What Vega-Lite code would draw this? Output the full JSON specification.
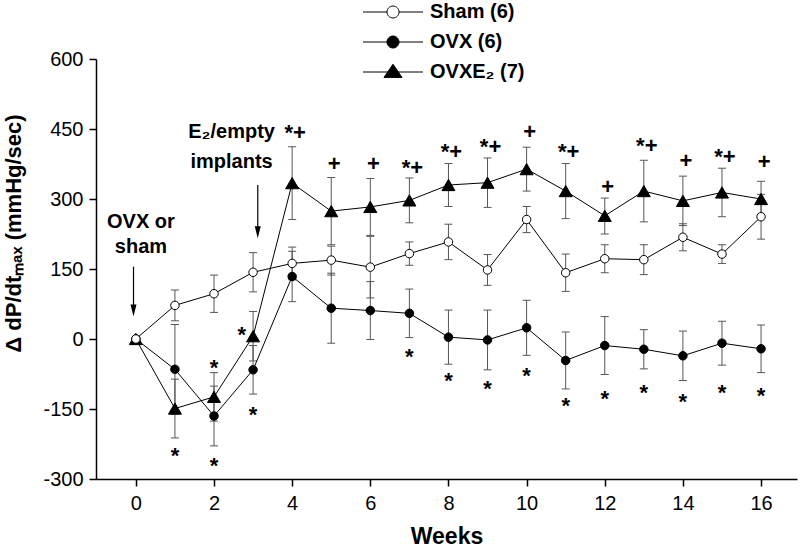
{
  "$schema": "https://vega.github.io/schema/vega-lite/v6.json",
  "width": 701,
  "height": 420,
  "autosize": {"type": "none"},
  "padding": {"left": 96, "top": 59, "right": 3, "bottom": 71},
  "background": "white",
  "config": {
    "view": {"stroke": null},
    "font": "Liberation Sans",
    "axis": {
      "grid": false,
      "domainColor": "black",
      "domainWidth": 1.5,
      "tickColor": "black",
      "tickWidth": 1.5,
      "tickSize": 7,
      "labelColor": "black",
      "labelFont": "Liberation Sans",
      "labelFontSize": 20,
      "titleColor": "black",
      "titleFont": "Liberation Sans",
      "titleFontWeight": "bold"
    }
  },
  "datasets": {
    "series": [
      {"week": 0, "group": "Sham (6)", "mean": 0, "lo": 0, "hi": 0},
      {"week": 1, "group": "Sham (6)", "mean": 72, "lo": 39, "hi": 105},
      {"week": 2, "group": "Sham (6)", "mean": 97, "lo": 57, "hi": 137},
      {"week": 3, "group": "Sham (6)", "mean": 143, "lo": 101, "hi": 185},
      {"week": 4, "group": "Sham (6)", "mean": 162, "lo": 127, "hi": 197},
      {"week": 5, "group": "Sham (6)", "mean": 169, "lo": 137, "hi": 199},
      {"week": 6, "group": "Sham (6)", "mean": 154, "lo": 88, "hi": 220},
      {"week": 7, "group": "Sham (6)", "mean": 183, "lo": 158, "hi": 208},
      {"week": 8, "group": "Sham (6)", "mean": 208, "lo": 170, "hi": 246},
      {"week": 9, "group": "Sham (6)", "mean": 148, "lo": 115, "hi": 181},
      {"week": 10, "group": "Sham (6)", "mean": 256, "lo": 228, "hi": 284},
      {"week": 11, "group": "Sham (6)", "mean": 142, "lo": 102, "hi": 182},
      {"week": 12, "group": "Sham (6)", "mean": 172, "lo": 142, "hi": 202},
      {"week": 13, "group": "Sham (6)", "mean": 170, "lo": 138, "hi": 202},
      {"week": 14, "group": "Sham (6)", "mean": 218, "lo": 189, "hi": 247},
      {"week": 15, "group": "Sham (6)", "mean": 182, "lo": 162, "hi": 202},
      {"week": 16, "group": "Sham (6)", "mean": 262, "lo": 214, "hi": 310},
      {"week": 0, "group": "OVX (6)", "mean": 0, "lo": 0, "hi": 0},
      {"week": 1, "group": "OVX (6)", "mean": -65, "lo": -161, "hi": 31},
      {"week": 2, "group": "OVX (6)", "mean": -165, "lo": -229, "hi": -101},
      {"week": 3, "group": "OVX (6)", "mean": -66, "lo": -118, "hi": -14},
      {"week": 4, "group": "OVX (6)", "mean": 134, "lo": 80, "hi": 188},
      {"week": 5, "group": "OVX (6)", "mean": 66, "lo": -9, "hi": 141},
      {"week": 6, "group": "OVX (6)", "mean": 61, "lo": -1, "hi": 123},
      {"week": 7, "group": "OVX (6)", "mean": 55, "lo": 3, "hi": 107},
      {"week": 8, "group": "OVX (6)", "mean": 4, "lo": -54, "hi": 62},
      {"week": 9, "group": "OVX (6)", "mean": -2, "lo": -66, "hi": 62},
      {"week": 10, "group": "OVX (6)", "mean": 24, "lo": -35, "hi": 83},
      {"week": 11, "group": "OVX (6)", "mean": -46, "lo": -107, "hi": 15},
      {"week": 12, "group": "OVX (6)", "mean": -14, "lo": -76, "hi": 48},
      {"week": 13, "group": "OVX (6)", "mean": -22, "lo": -64, "hi": 20},
      {"week": 14, "group": "OVX (6)", "mean": -36, "lo": -89, "hi": 17},
      {"week": 15, "group": "OVX (6)", "mean": -9, "lo": -56, "hi": 38},
      {"week": 16, "group": "OVX (6)", "mean": -21, "lo": -72, "hi": 30},
      {"week": 0, "group": "OVXE₂ (7)", "mean": 0, "lo": 0, "hi": 0},
      {"week": 1, "group": "OVXE₂ (7)", "mean": -149, "lo": -212, "hi": -86},
      {"week": 2, "group": "OVXE₂ (7)", "mean": -124, "lo": -176, "hi": -72},
      {"week": 3, "group": "OVXE₂ (7)", "mean": 6, "lo": -47, "hi": 59},
      {"week": 4, "group": "OVXE₂ (7)", "mean": 334, "lo": 256, "hi": 412},
      {"week": 5, "group": "OVXE₂ (7)", "mean": 274, "lo": 202, "hi": 346},
      {"week": 6, "group": "OVXE₂ (7)", "mean": 283, "lo": 222, "hi": 344},
      {"week": 7, "group": "OVXE₂ (7)", "mean": 297, "lo": 249, "hi": 345},
      {"week": 8, "group": "OVXE₂ (7)", "mean": 330, "lo": 284, "hi": 376},
      {"week": 9, "group": "OVXE₂ (7)", "mean": 335, "lo": 282, "hi": 388},
      {"week": 10, "group": "OVXE₂ (7)", "mean": 364, "lo": 317, "hi": 411},
      {"week": 11, "group": "OVXE₂ (7)", "mean": 317, "lo": 258, "hi": 376},
      {"week": 12, "group": "OVXE₂ (7)", "mean": 264, "lo": 225, "hi": 302},
      {"week": 13, "group": "OVXE₂ (7)", "mean": 317, "lo": 251, "hi": 383},
      {"week": 14, "group": "OVXE₂ (7)", "mean": 296, "lo": 243, "hi": 349},
      {"week": 15, "group": "OVXE₂ (7)", "mean": 314, "lo": 262, "hi": 366},
      {"week": 16, "group": "OVXE₂ (7)", "mean": 300, "lo": 262, "hi": 338}
    ],
    "stars": [
      {"week": 1, "y": -238}, {"week": 2, "y": -259}, {"week": 2, "y": -49},
      {"week": 2.71, "y": 21}, {"week": 3, "y": -149}, {"week": 7, "y": -25},
      {"week": 8, "y": -77}, {"week": 9, "y": -95}, {"week": 10, "y": -66},
      {"week": 11, "y": -131}, {"week": 12, "y": -116}, {"week": 13, "y": -102},
      {"week": 14, "y": -122}, {"week": 15, "y": -102}, {"week": 16, "y": -109}
    ],
    "plus": [
      {"week": 4, "y": 441, "label": "*+"}, {"week": 5, "y": 375, "label": "+"},
      {"week": 6, "y": 375, "label": "+"}, {"week": 7, "y": 367, "label": "*+"},
      {"week": 8, "y": 401, "label": "*+"}, {"week": 9, "y": 412, "label": "*+"},
      {"week": 10, "y": 443, "label": "+"}, {"week": 11, "y": 400, "label": "*+"},
      {"week": 12, "y": 326, "label": "+"}, {"week": 13, "y": 414, "label": "*+"},
      {"week": 14, "y": 381, "label": "+"}, {"week": 15, "y": 389, "label": "*+"},
      {"week": 16, "y": 380, "label": "+"}
    ],
    "notes": [
      {"week": 0.13, "y": 251, "label": "OVX or"},
      {"week": 0.13, "y": 198, "label": "sham"},
      {"week": 2.45, "y": 444, "label": "E₂/empty"},
      {"week": 2.45, "y": 380, "label": "implants"}
    ],
    "arrows": [
      {"week": -0.06, "top": 155, "tip": 61},
      {"week": 3.12, "top": 330, "tip": 229}
    ]
  },
  "encoding": {
    "x": {"field": "week", "type": "quantitative", "scale": {"domain": [-1.02, 16.92], "nice": false, "zero": false},
          "axis": {"values": [0, 2, 4, 6, 8, 10, 12, 14, 16], "title": "Weeks", "titleFontSize": 23, "labelPadding": 7, "titleY": 57, "titleBaseline": "middle", "labelFlush": false}}
  },
  "layer": [
    {
      "data": {"name": "series"},
      "transform": [{"filter": "datum.week > 0"}],
      "mark": {"type": "rule", "color": "#555555", "strokeWidth": 1},
      "encoding": {
        "y": {"field": "lo", "type": "quantitative", "scale": {"domain": [-300, 600], "nice": false, "zero": false},
              "axis": {"values": [-300, -150, 0, 150, 300, 450, 600], "labelExpr": "datum.value < 0 ? '-' + abs(datum.value) : '' + datum.value", "title": "Δ dP/dtₘₐₓ (mmHg/sec)", "titleFontSize": 22, "labelPadding": 6, "titleAngle": -90, "titleX": -83, "titleY": 174, "titleAlign": "center", "titleBaseline": "middle", "labelFlush": false}},
        "y2": {"field": "hi"}
      }
    },
    {
      "data": {"name": "series"},
      "transform": [{"filter": "datum.week > 0"}],
      "mark": {"type": "tick", "orient": "horizontal", "size": 8, "thickness": 1, "color": "#555555", "opacity": 1},
      "encoding": {
        "y": {"field": "lo", "type": "quantitative", "title": "Δ dP/dtₘₐₓ (mmHg/sec)"}
      }
    },
    {
      "data": {"name": "series"},
      "transform": [{"filter": "datum.week > 0"}],
      "mark": {"type": "tick", "orient": "horizontal", "size": 8, "thickness": 1, "color": "#555555", "opacity": 1},
      "encoding": {
        "y": {"field": "hi", "type": "quantitative", "title": "Δ dP/dtₘₐₓ (mmHg/sec)"}
      }
    },
    {
      "data": {"name": "series"},
      "mark": {"type": "line", "color": "black", "strokeWidth": 1},
      "encoding": {
        "y": {"field": "mean", "type": "quantitative", "title": "Δ dP/dtₘₐₓ (mmHg/sec)"},
        "detail": {"field": "group", "type": "nominal"}
      }
    },
    {
      "data": {"name": "series"},
      "transform": [{"filter": "datum.group === 'OVXE₂ (7)'"}],
      "mark": {"type": "point", "shape": "triangle-up", "size": 169, "filled": true, "fill": "black", "stroke": "black", "strokeWidth": 1, "opacity": 1},
      "encoding": {
        "y": {"field": "mean", "type": "quantitative", "title": "Δ dP/dtₘₐₓ (mmHg/sec)"}
      }
    },
    {
      "data": {"name": "series"},
      "transform": [{"filter": "datum.group === 'OVX (6)'"}],
      "mark": {"type": "point", "shape": "circle", "size": 72, "filled": true, "fill": "black", "stroke": "black", "strokeWidth": 1, "opacity": 1},
      "encoding": {
        "y": {"field": "mean", "type": "quantitative", "title": "Δ dP/dtₘₐₓ (mmHg/sec)"}
      }
    },
    {
      "data": {"name": "series"},
      "transform": [{"filter": "datum.group === 'Sham (6)'"}],
      "mark": {"type": "point", "shape": "circle", "size": 72, "filled": true, "fill": "white", "stroke": "black", "strokeWidth": 1, "opacity": 1},
      "encoding": {
        "y": {"field": "mean", "type": "quantitative", "title": "Δ dP/dtₘₐₓ (mmHg/sec)"}
      }
    },
    {
      "data": {"name": "series"},
      "transform": [{"filter": "false"}],
      "mark": {"type": "point", "filled": true, "stroke": "black", "strokeWidth": 1, "opacity": 1},
      "encoding": {
        "y": {"field": "mean", "type": "quantitative", "title": "Δ dP/dtₘₐₓ (mmHg/sec)"},
        "shape": {"field": "group", "type": "nominal",
                  "scale": {"domain": ["Sham (6)", "OVX (6)", "OVXE₂ (7)"],
                            "range": ["M-5,0H-1M1,0H5M1,0A1,1,0,1,1,-1,0A1,1,0,1,1,1,0Z", "M-5,0H-1M1,0H5M1,0A1,1,0,1,1,-1,0A1,1,0,1,1,1,0Z", "M-5,0H-0.8M0.8,0H5M0,-1.3L1.5,0.9L-1.5,0.9Z"]},
                  "legend": {"orient": "none", "legendX": 287, "legendY": -57, "title": null, "padding": 0, "symbolSize": 144, "symbolStrokeWidth": 1, "symbolStrokeColor": "black", "labelFont": "Liberation Sans", "labelFontSize": 20, "labelFontWeight": "bold", "labelColor": "black", "labelOffset": 27, "rowPadding": 10, "symbolOpacity": 1,
                             "encode": {"symbols": {"update": {"stroke": {"value": "black"}, "strokeWidth": {"value": 1}}}}}},
        "fill": {"field": "group", "type": "nominal",
                 "scale": {"domain": ["Sham (6)", "OVX (6)", "OVXE₂ (7)"], "range": ["white", "black", "black"]},
                 "legend": {"orient": "none", "legendX": 287, "legendY": -57, "title": null, "padding": 0, "symbolSize": 144, "symbolStrokeWidth": 1, "symbolStrokeColor": "black", "labelFont": "Liberation Sans", "labelFontSize": 20, "labelFontWeight": "bold", "labelColor": "black", "labelOffset": 27, "rowPadding": 10, "symbolOpacity": 1,
                            "encode": {"symbols": {"update": {"stroke": {"value": "black"}, "strokeWidth": {"value": 1}}}}}}
      }
    },
    {
      "data": {"name": "stars"},
      "mark": {"type": "text", "text": "*", "fontSize": 22, "fontWeight": "bold", "font": "Liberation Sans", "color": "black", "align": "center", "baseline": "middle", "dy": 6},
      "encoding": {
        "y": {"field": "y", "type": "quantitative", "title": "Δ dP/dtₘₐₓ (mmHg/sec)"}
      }
    },
    {
      "data": {"name": "plus"},
      "mark": {"type": "text", "fontSize": 22, "fontWeight": "bold", "font": "Liberation Sans", "color": "black", "align": "center", "baseline": "middle", "dx": 3},
      "encoding": {
        "y": {"field": "y", "type": "quantitative", "title": "Δ dP/dtₘₐₓ (mmHg/sec)"},
        "text": {"field": "label", "type": "nominal"}
      }
    },
    {
      "data": {"name": "notes"},
      "mark": {"type": "text", "fontSize": 20, "fontWeight": "bold", "font": "Liberation Sans", "color": "black", "align": "center", "baseline": "middle"},
      "encoding": {
        "y": {"field": "y", "type": "quantitative", "title": "Δ dP/dtₘₐₓ (mmHg/sec)"},
        "text": {"field": "label", "type": "nominal"}
      }
    },
    {
      "data": {"name": "arrows"},
      "mark": {"type": "rule", "color": "black", "strokeWidth": 1.2},
      "encoding": {
        "y": {"field": "top", "type": "quantitative", "title": "Δ dP/dtₘₐₓ (mmHg/sec)"},
        "y2": {"field": "tip"}
      }
    },
    {
      "data": {"name": "arrows"},
      "mark": {"type": "point", "shape": "M-0.5,-1L0.5,-1L0,1Z", "size": 144, "filled": true, "color": "black", "opacity": 1},
      "encoding": {
        "y": {"field": "tip", "type": "quantitative", "title": "Δ dP/dtₘₐₓ (mmHg/sec)"}
      }
    }
  ]
}
